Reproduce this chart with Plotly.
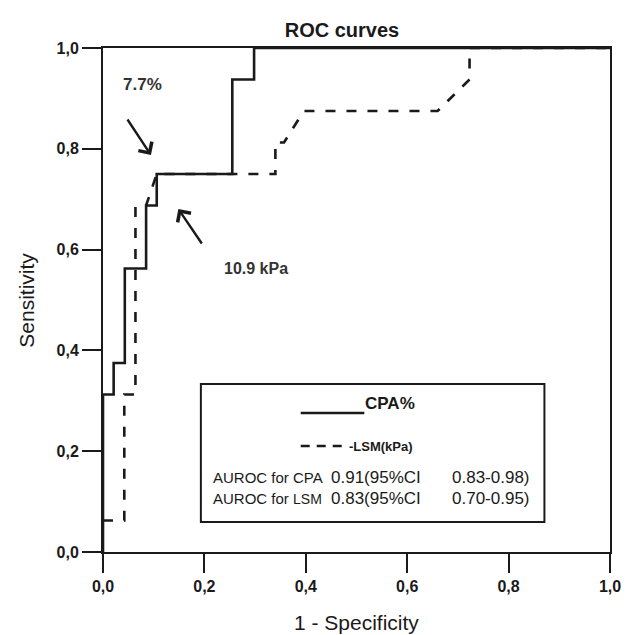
import plotly.graph_objects as go

# ---- data ----
cpa_fpr = [0.0, 0.0, 0.021, 0.021, 0.043, 0.043, 0.085, 0.085, 0.106, 0.106, 0.255, 0.255, 0.298, 0.298, 1.0]
cpa_tpr = [0.0, 0.3125, 0.3125, 0.375, 0.375, 0.5625, 0.5625, 0.6875, 0.6875, 0.75, 0.75, 0.9375, 0.9375, 1.0, 1.0]

lsm_fpr = [0.0, 0.042, 0.042, 0.064, 0.064, 0.085, 0.106, 0.340, 0.340, 0.357, 0.396, 0.660, 0.723, 0.723, 1.0]
lsm_tpr = [0.0625, 0.0625, 0.3125, 0.3125, 0.6875, 0.6875, 0.75, 0.75, 0.8125, 0.8125, 0.875, 0.875, 0.9375, 1.0, 1.0]

tick_vals = [0.0, 0.2, 0.4, 0.6, 0.8, 1.0]
series_names = ["CPA%", "LSM(kPa)"]
auroc_labels = ["AUROC for CPA", "AUROC for <span style='font-size:14px'>LSM</span>"]
auroc_values = ["0.91(95%CI", "0.83(95%CI"]
auroc_ci = ["0.83-0.98)", "0.70-0.95)"]
cut_labels = ["7.7%", "10.9 kPa"]

# ---- geometry (pixels) ----
W, H = 633, 635
L, R, T, B = 103, 621, 48, 552
PW, PH = R - L, B - T


def px(x):
    return (x - L) / PW


def py(y):
    return (B - y) / PH


FONT = "Liberation Sans, Arial, sans-serif"
BLACK = "#1a1a1a"

fig = go.Figure()
fig.add_trace(go.Scatter(x=cpa_fpr, y=cpa_tpr, mode="lines", name=series_names[0],
                         line=dict(color=BLACK, width=2.6), showlegend=False))
fig.add_trace(go.Scatter(x=lsm_fpr, y=lsm_tpr, mode="lines", name=series_names[1],
                         line=dict(color=BLACK, width=2.6, dash="10px,11px"), showlegend=False))

axis_common = dict(
    range=[0, 1], tickvals=tick_vals, tickformat=".1f",
    ticks="outside", ticklen=19, tickwidth=2, tickcolor=BLACK,
    showline=True, linewidth=2, linecolor=BLACK, mirror=True,
    showgrid=False, zeroline=False,
    tickfont=dict(family=FONT, size=16, color=BLACK, weight="bold"),
)
fig.update_xaxes(**axis_common)
fig.update_yaxes(**axis_common)

annotations = []
# axis titles
annotations.append(dict(text="1 - Specificity", x=0.5, y=py(622), xref="paper", yref="paper",
                        showarrow=False, font=dict(family=FONT, size=21, color=BLACK),
                        xanchor="center", yanchor="middle"))
annotations.append(dict(text="Sensitivity", x=px(24), y=0.5, xref="paper", yref="paper",
                        showarrow=False, textangle=-90, font=dict(family=FONT, size=21, color=BLACK),
                        xanchor="center", yanchor="middle"))
# cut-off labels and arrows
annotations.append(dict(text=cut_labels[0], x=px(143), y=py(85), xref="paper", yref="paper",
                        showarrow=False, font=dict(family=FONT, size=17, color="#333", weight="bold"),
                        xanchor="center", yanchor="middle"))
annotations.append(dict(text=cut_labels[1], x=px(225), y=py(268), xref="paper", yref="paper",
                        showarrow=False, font=dict(family=FONT, size=16, color="#333", weight="bold"),
                        xanchor="left", yanchor="middle"))
annotations.append(dict(text="", x=px(152), y=py(155), ax=px(127), ay=py(118),
                        xref="x", yref="y", axref="x", ayref="y",
                        showarrow=True, arrowhead=4, arrowsize=1.3, arrowwidth=2.4, arrowcolor=BLACK))
annotations.append(dict(text="", x=px(180), y=py(209), ax=px(205), ay=py(245),
                        xref="x", yref="y", axref="x", ayref="y",
                        showarrow=True, arrowhead=4, arrowsize=1.3, arrowwidth=2.4, arrowcolor=BLACK))
# legend box text
annotations.append(dict(text=series_names[0], x=px(369), y=py(415), xref="paper", yref="paper",
                        showarrow=False, font=dict(family=FONT, size=17, color=BLACK, weight="bold"),
                        xanchor="left", yanchor="bottom"))
annotations.append(dict(text="-" + series_names[1], x=px(352), y=py(446), xref="paper", yref="paper",
                        showarrow=False, font=dict(family=FONT, size=13, color=BLACK, weight="bold"),
                        xanchor="left", yanchor="middle"))
row_y = [477, 498]
for ri in range(2):
    annotations.append(dict(text=auroc_labels[ri], x=px(213), y=py(row_y[ri]), xref="paper", yref="paper",
                            showarrow=False, font=dict(family=FONT, size=15, color=BLACK),
                            xanchor="left", yanchor="middle"))
    annotations.append(dict(text=auroc_values[ri], x=px(334), y=py(row_y[ri]), xref="paper", yref="paper",
                            showarrow=False, font=dict(family=FONT, size=17, color=BLACK),
                            xanchor="left", yanchor="middle"))
    annotations.append(dict(text=auroc_ci[ri], x=px(458), y=py(row_y[ri]), xref="paper", yref="paper",
                            showarrow=False, font=dict(family=FONT, size=17, color=BLACK),
                            xanchor="left", yanchor="middle"))

shapes = [
    dict(type="rect", xref="paper", yref="paper", x0=px(203), x1=px(554), y0=py(522), y1=py(384),
         line=dict(color=BLACK, width=2), fillcolor="white", layer="below"),
    dict(type="line", xref="paper", yref="paper", x0=px(305), x1=px(370), y0=py(413), y1=py(413),
         line=dict(color=BLACK, width=2.6)),
    dict(type="line", xref="paper", yref="paper", x0=px(305), x1=px(350), y0=py(446), y1=py(446),
         line=dict(color=BLACK, width=2.6, dash="9px,7px")),
]

fig.update_layout(
    width=W, height=H,
    margin=dict(l=L, r=W - R, t=T, b=H - B, pad=0),
    paper_bgcolor="white", plot_bgcolor="white",
    separators=",.",
    title=dict(text="<b>ROC curves</b>", x=342 / W, xanchor="center", y=1 - 30 / H, yanchor="middle",
               xref="container", yref="container",
               font=dict(family=FONT, size=20, color=BLACK)),
    annotations=annotations, shapes=shapes,
    showlegend=False,
)

fig.write_html("out.html")
